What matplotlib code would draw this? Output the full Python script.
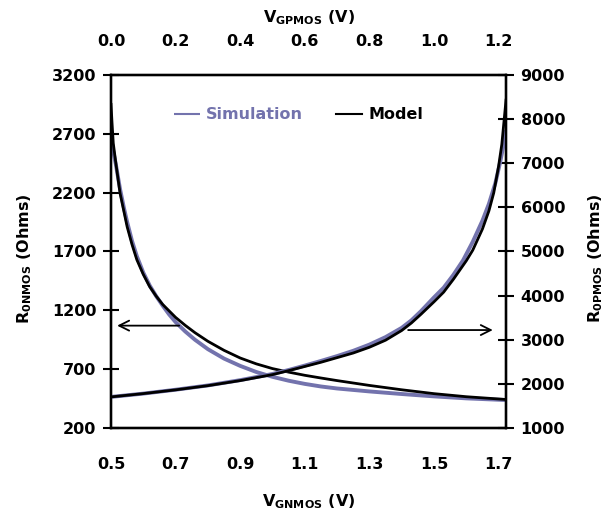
import matplotlib
matplotlib.use("Agg")
import matplotlib.pyplot as plt

plt.rcParams['font.family'] = ['DejaVu Sans']
plt.rcParams['font.weight'] = 'bold'
plt.rcParams['mathtext.fontset'] = 'custom'
plt.rcParams['mathtext.rm'] = 'DejaVu Sans:bold'
plt.rcParams['mathtext.it'] = 'DejaVu Sans:bold'
plt.rcParams['mathtext.bf'] = 'DejaVu Sans:bold'

# NMOS: R0 against V_GNMOS (bottom / left axes)
vgn_model = [0.500, 0.503, 0.507, 0.515, 0.528, 0.54, 0.55, 0.565, 0.58, 0.60,
             0.62, 0.64, 0.66, 0.68, 0.70, 0.73, 0.76, 0.80, 0.85, 0.90,
             0.95, 1.00, 1.05, 1.10, 1.15, 1.20, 1.30, 1.40, 1.50, 1.60, 1.72]
rn_model = [2950, 2800, 2620, 2450, 2195, 2040, 1910, 1760, 1630, 1505,
            1400, 1320, 1250, 1195, 1140, 1072, 1010, 937, 860, 795,
            745, 705, 675, 648, 625, 603, 562, 525, 492, 466, 443]
vgn_sim = [0.500, 0.505, 0.515, 0.528, 0.54, 0.55, 0.565, 0.58, 0.60,
           0.62, 0.64, 0.66, 0.68, 0.70, 0.73, 0.76, 0.80, 0.85, 0.90,
           0.95, 1.00, 1.05, 1.10, 1.15, 1.20, 1.30, 1.40, 1.50, 1.60, 1.72]
rn_sim = [2680, 2580, 2440, 2230, 2070, 1950, 1790, 1660, 1520,
          1410, 1320, 1240, 1165, 1100, 1020, 950, 870, 790, 728,
          676, 635, 602, 575, 553, 536, 511, 489, 469, 452, 438]

# PMOS: R0 against V_GPMOS (top / right axes)
vgp_model = [0.0, 0.1, 0.2, 0.3, 0.4, 0.5, 0.55, 0.6, 0.65, 0.7, 0.75, 0.8,
             0.85, 0.9, 0.93, 0.96, 1.0, 1.03, 1.06, 1.10, 1.12, 1.15, 1.17,
             1.185, 1.20, 1.21, 1.223]
rp_model = [1705, 1780, 1865, 1960, 2075, 2210, 2300, 2395, 2490, 2595, 2700, 2830,
            2990, 3210, 3380, 3580, 3860, 4080, 4370, 4790, 5030, 5510, 5920,
            6330, 6930, 7430, 8430]
vgp_sim = [0.0, 0.1, 0.2, 0.3, 0.4, 0.5, 0.55, 0.6, 0.65, 0.7, 0.75, 0.8,
           0.85, 0.9, 0.93, 0.96, 1.0, 1.03, 1.06, 1.09, 1.12, 1.15, 1.17,
           1.19, 1.205, 1.215, 1.223]
rp_sim = [1705, 1780, 1868, 1965, 2085, 2225, 2315, 2415, 2520, 2630, 2750, 2890,
          3060, 3270, 3440, 3650, 3960, 4180, 4470, 4800, 5220, 5700, 6080,
          6550, 7030, 7400, 7750]

bottom_ticks = [0.5, 0.7, 0.9, 1.1, 1.3, 1.5, 1.7]
top_ticks = [0.0, 0.2, 0.4, 0.6, 0.8, 1.0, 1.2]
left_ticks = [200, 700, 1200, 1700, 2200, 2700, 3200]
right_ticks = [1000, 2000, 3000, 4000, 5000, 6000, 7000, 8000, 9000]

sim_color = '#7373AD'
fs = 11.5

fig = plt.figure(figsize=(6.15, 5.17), dpi=100)
ax = fig.add_axes([0.1805, 0.1721, 0.6423, 0.6829])
ax2 = ax.twinx()
ax3 = ax2.twiny()

ax.plot(vgn_sim, rn_sim, color=sim_color, lw=2.8, label='Simulation', solid_capstyle='butt')
ax.plot(vgn_model, rn_model, color='black', lw=2.0, label='Model')
ax3.plot(vgp_sim, rp_sim, color=sim_color, lw=2.8, solid_capstyle='butt')
ax3.plot(vgp_model, rp_model, color='black', lw=2.0)

ax.set_xlim(0.5, 1.723)
ax.set_ylim(200, 3200)
ax3.set_xlim(0.0, 1.223)
ax2.set_ylim(1000, 9000)

ax.set_xticks(bottom_ticks)
ax.set_xticklabels(['%.1f' % v for v in bottom_ticks])
ax3.set_xticks(top_ticks)
ax3.set_xticklabels(['%.1f' % v for v in top_ticks])
ax.set_yticks(left_ticks)
ax2.set_yticks(right_ticks)

ax.tick_params(axis='x', length=0, pad=21, labelsize=fs)
ax3.tick_params(axis='x', length=0, pad=19, labelsize=fs)
ax.tick_params(axis='y', direction='inout', length=11, width=1.5, pad=5, labelsize=fs)
ax2.tick_params(axis='y', direction='inout', length=11, width=1.5, pad=5, labelsize=fs)

for a in (ax, ax2, ax3):
    for s in a.spines.values():
        s.set_linewidth(1.6)

fig.text(0.502, 0.029, r'$V_{GNMOS}$ (V)', ha='center', va='center', fontsize=fs)
fig.text(0.502, 0.965, r'$V_{GPMOS}$ (V)', ha='center', va='center', fontsize=fs)
fig.text(0.040, 0.5, r'$R_{0NMOS}$ (Ohms)', ha='center', va='center', rotation=90, fontsize=fs)
fig.text(0.968, 0.5, r'$R_{0PMOS}$ (Ohms)', ha='center', va='center', rotation=90, fontsize=fs)

# arrows pointing to the axis each curve belongs to
arrow_n_y = 1070
arrow_n_from, arrow_n_to = 0.711, 0.519
arrow_p_y = 3220
arrow_p_from, arrow_p_to = 0.920, 1.182
ax.annotate('', xy=(arrow_n_to, arrow_n_y), xytext=(arrow_n_from, arrow_n_y),
            arrowprops=dict(arrowstyle='->', lw=1.3, color='black', mutation_scale=18,
                            shrinkA=0, shrinkB=0))
ax3.annotate('', xy=(arrow_p_to, arrow_p_y), xytext=(arrow_p_from, arrow_p_y),
             arrowprops=dict(arrowstyle='->', lw=1.3, color='black', mutation_scale=18,
                             shrinkA=0, shrinkB=0))

leg = ax.legend(loc='center', bbox_to_anchor=(0.475, 0.887), ncol=2, frameon=False,
                fontsize=fs, handlelength=1.6, handletextpad=0.4, columnspacing=2.1)
for h in leg.get_lines():
    h.set_linewidth(1.5)
leg.get_texts()[0].set_color(sim_color)

fig.savefig('out.png', dpi=100)
